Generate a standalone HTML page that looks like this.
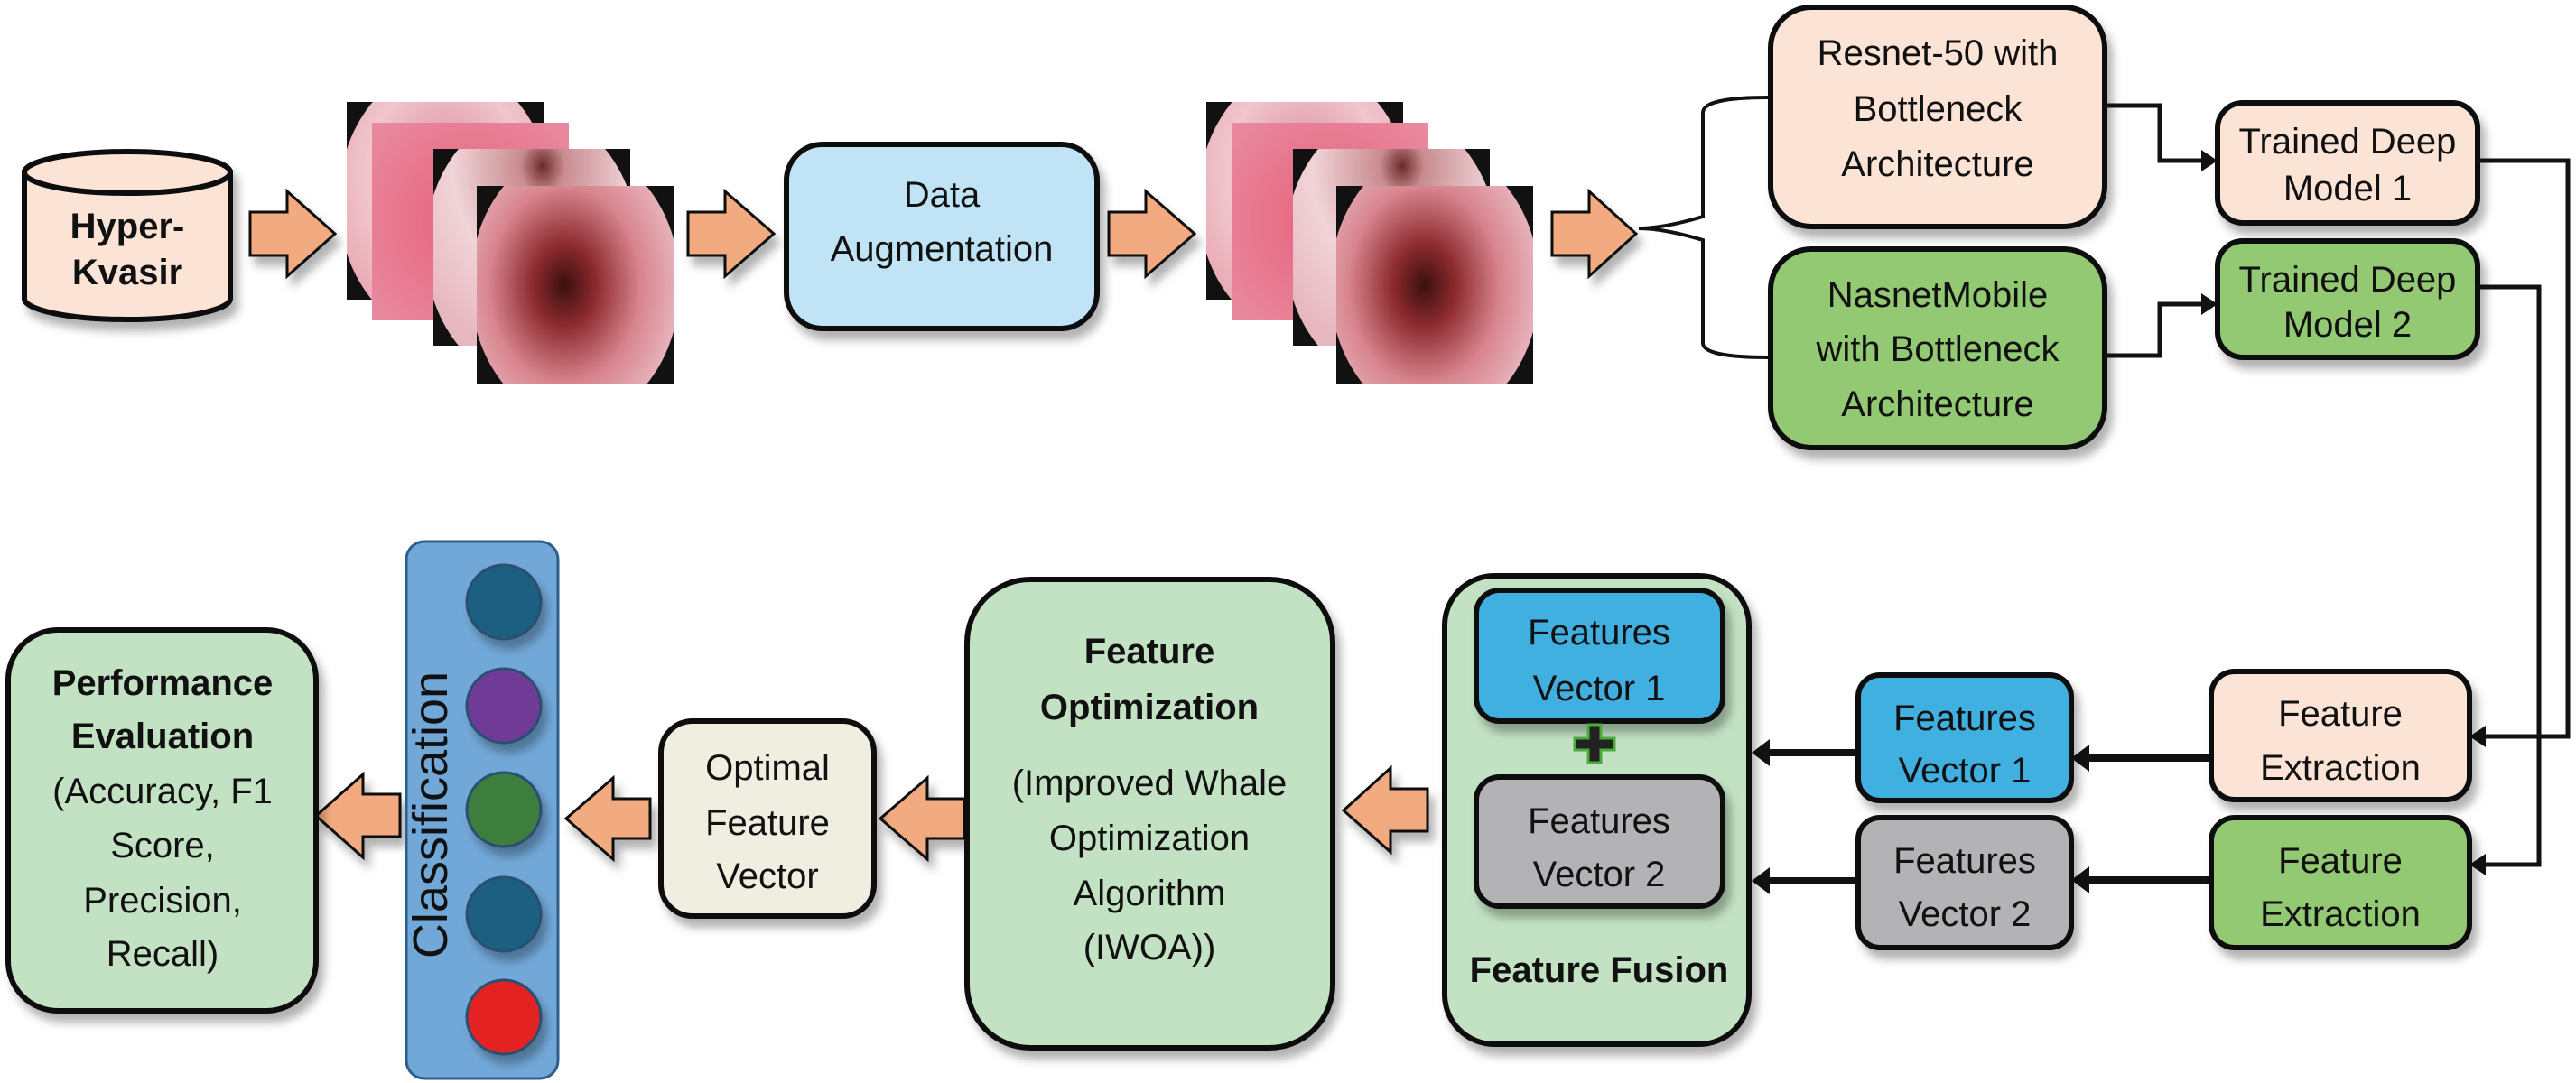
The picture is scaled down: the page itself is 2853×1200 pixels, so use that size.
<!DOCTYPE html>
<html><head><meta charset="utf-8"><style>
html,body{margin:0;padding:0;background:#fff;}
svg{display:block;}
text{font-family:"Liberation Sans Narrow","Liberation Sans",sans-serif;fill:#111;text-anchor:middle;dominant-baseline:central;font-size:40px;}
.b{font-weight:bold;}
.box{stroke:#111;stroke-width:6;}
</style></head><body>
<svg width="2853" height="1200" viewBox="0 0 2853 1200" xmlns="http://www.w3.org/2000/svg">
<defs>
<filter id="sh" x="-10%" y="-10%" width="130%" height="130%"><feDropShadow dx="6" dy="10" stdDeviation="5" flood-color="#000" flood-opacity="0.3"/></filter>
<radialGradient id="g1" cx="0.5" cy="0.4" r="0.6"><stop offset="0" stop-color="#d98a9c"/><stop offset="0.6" stop-color="#f0c6cc"/><stop offset="1" stop-color="#e9a7b3"/></radialGradient>
<radialGradient id="g2" cx="0.5" cy="0.5" r="0.7"><stop offset="0" stop-color="#e8607c"/><stop offset="1" stop-color="#e88ba0"/></radialGradient>
<radialGradient id="g3" cx="0.55" cy="0.2" r="0.7"><stop offset="0" stop-color="#6b2a2a"/><stop offset="0.15" stop-color="#c98c90"/><stop offset="0.6" stop-color="#f0d4d8"/><stop offset="1" stop-color="#e8b8c0"/></radialGradient>
<radialGradient id="g4" cx="0.45" cy="0.5" r="0.6"><stop offset="0" stop-color="#3a1010"/><stop offset="0.25" stop-color="#8c2a2e"/><stop offset="0.6" stop-color="#d7848e"/><stop offset="1" stop-color="#ecc0c8"/></radialGradient>
<g id="stack">
<svg x="0" y="0" width="218" height="219"><rect width="218" height="219" fill="#111"/><ellipse cx="109" cy="110" rx="118" ry="150" fill="url(#g1)"/></svg>
<rect x="28" y="23" width="218" height="219" fill="url(#g2)"/>
<svg x="96" y="52" width="218" height="218"><rect width="218" height="218" fill="#111"/><ellipse cx="109" cy="109" rx="118" ry="150" fill="url(#g3)"/></svg>
<svg x="144" y="93" width="218" height="219"><rect width="218" height="219" fill="#111"/><ellipse cx="109" cy="110" rx="116" ry="150" fill="url(#g4)"/></svg>
</g>
</defs>
<rect width="2853" height="1200" fill="#fff"/>

<g filter="url(#sh)">
<path d="M27 191 L27 331 A114 23 0 0 0 255 331 L255 191 Z" fill="#fbe3d6" class="box"/>
<ellipse cx="141" cy="191" rx="114" ry="23" fill="#fbe3d6" class="box"/>
</g>
<text x="141" y="251" class="b" font-size="36">Hyper-</text>
<text x="141" y="302" class="b" font-size="36">Kvasir</text>

<g fill="#f2aa80" stroke="#111" stroke-width="3" filter="url(#sh)">
<polygon points="277,235 318,235 318,212 371,259 318,306 318,283 277,283"/>
<polygon points="762,235 803,235 803,212 857,259 803,306 803,283 762,283"/>
<polygon points="1228,235 1269,235 1269,212 1323,259 1269,306 1269,283 1228,283"/>
<polygon points="1719,235 1760,235 1760,212 1812,259 1760,306 1760,283 1719,283"/>
<polygon points="1581,874 1540,874 1540,851 1488,898 1540,944 1540,921 1581,921"/>
<polygon points="1068,885 1027,885 1027,862 975,907 1027,952 1027,929 1068,929"/>
<polygon points="720,885 679,885 679,862 627,907 679,952 679,929 720,929"/>
<polygon points="443,880 402,880 402,858 350,904 402,950 402,927 443,927"/>
</g>

<use href="#stack" x="384" y="113"/>
<use href="#stack" x="1336" y="113"/>

<rect x="871" y="160" width="344" height="204" rx="40" fill="#c0e4f6" class="box" filter="url(#sh)"/>
<text x="1043" y="216">Data</text>
<text x="1043" y="276">Augmentation</text>

<path d="M1815 253 Q1842 253 1886 240 L1886 125 Q1886 108 1958 108 M1815 253 Q1842 253 1886 266 L1886 380 Q1886 396 1958 396" fill="none" stroke="#111" stroke-width="4"/>

<rect x="1961" y="8" width="370" height="243" rx="45" fill="#fbe3d6" class="box" filter="url(#sh)"/>
<text x="2146" y="59">Resnet-50 with</text>
<text x="2146" y="121">Bottleneck</text>
<text x="2146" y="182">Architecture</text>
<rect x="1961" y="276" width="370" height="220" rx="45" fill="#93c972" class="box" filter="url(#sh)"/>
<text x="2146" y="327">NasnetMobile</text>
<text x="2146" y="387">with Bottleneck</text>
<text x="2146" y="448">Architecture</text>

<rect x="2456" y="114" width="288" height="133" rx="28" fill="#fbe3d6" class="box" filter="url(#sh)"/>
<text x="2600" y="157" font-size="30">Trained Deep</text>
<text x="2600" y="209" font-size="30">Model 1</text>
<rect x="2456" y="267" width="288" height="129" rx="28" fill="#93c972" class="box" filter="url(#sh)"/>
<text x="2600" y="310" font-size="30">Trained Deep</text>
<text x="2600" y="360" font-size="30">Model 2</text>

<g fill="none" stroke="#111" stroke-width="5">
<polyline points="2331,117 2392,117 2392,178 2440,178"/>
<polyline points="2331,394 2392,394 2392,337 2440,337"/>
<polyline points="2744,178 2844,178 2844,816 2752,816"/>
<polyline points="2744,318 2812,318 2812,958 2752,958"/>
<line x1="2449" y1="840" x2="2310" y2="840" stroke-width="8"/>
<line x1="2449" y1="975" x2="2310" y2="975" stroke-width="8"/>
<line x1="2058" y1="834" x2="1956" y2="834" stroke-width="8"/>
<line x1="2058" y1="976" x2="1956" y2="976" stroke-width="8"/>
</g>
<g fill="#111">
<polygon points="2456,178 2438,166 2438,190"/>
<polygon points="2456,337 2438,325 2438,349"/>
<polygon points="2735,816 2753,804 2753,828"/>
<polygon points="2735,958 2753,946 2753,970"/>
<polygon points="2294,840 2314,825 2314,855"/>
<polygon points="2294,975 2314,960 2314,990"/>
<polygon points="1940,834 1960,819 1960,849"/>
<polygon points="1940,976 1960,961 1960,991"/>
</g>

<rect x="2449" y="744" width="286" height="142" rx="26" fill="#fbe3d6" class="box" filter="url(#sh)"/>
<text x="2592" y="791">Feature</text>
<text x="2592" y="851">Extraction</text>
<rect x="2449" y="906" width="286" height="144" rx="26" fill="#93c972" class="box" filter="url(#sh)"/>
<text x="2592" y="954">Feature</text>
<text x="2592" y="1013">Extraction</text>

<rect x="2058" y="748" width="236" height="139" rx="24" fill="#41b0e0" class="box" filter="url(#sh)"/>
<text x="2176" y="796">Features</text>
<text x="2176" y="854">Vector 1</text>
<rect x="2058" y="906" width="236" height="144" rx="24" fill="#b3b3b5" class="box" filter="url(#sh)"/>
<text x="2176" y="954">Features</text>
<text x="2176" y="1013">Vector 2</text>

<rect x="1600" y="638" width="337" height="519" rx="55" fill="#c3e2c4" class="box" filter="url(#sh)"/>
<rect x="1635" y="654" width="273" height="145" rx="26" fill="#41b0e0" class="box" filter="url(#sh)"/>
<text x="1771" y="701">Features</text>
<text x="1771" y="763">Vector 1</text>
<path d="M1759 803 h14 v15 h15 v13 h-15 v14 h-14 v-14 h-15 v-13 h15 z" fill="#222" stroke="#4caa3c" stroke-width="3"/>
<rect x="1635" y="861" width="273" height="143" rx="26" fill="#b3b3b5" class="box" filter="url(#sh)"/>
<text x="1771" y="910">Features</text>
<text x="1771" y="969">Vector 2</text>
<text x="1771" y="1075" class="b" font-size="40">Feature Fusion</text>

<rect x="1071" y="642" width="405" height="519" rx="70" fill="#c3e2c4" class="box" filter="url(#sh)"/>
<text x="1273" y="722" class="b">Feature</text>
<text x="1273" y="784" class="b">Optimization</text>
<text x="1273" y="868">(Improved Whale</text>
<text x="1273" y="929">Optimization</text>
<text x="1273" y="990">Algorithm</text>
<text x="1273" y="1050">(IWOA))</text>

<rect x="732" y="799" width="236" height="216" rx="35" fill="#efeee0" class="box" filter="url(#sh)"/>
<text x="850" y="851">Optimal</text>
<text x="850" y="912">Feature</text>
<text x="850" y="971">Vector</text>

<rect x="450" y="600" width="168" height="595" rx="20" fill="#72a8d8" stroke="#2e5e8a" stroke-width="3"/>
<g stroke="#2a4f70" stroke-width="3" filter="url(#sh)">
<ellipse cx="558" cy="667" rx="41" ry="41" fill="#1a5f80"/>
<ellipse cx="558" cy="782" rx="41" ry="41" fill="#6f3a96"/>
<ellipse cx="558" cy="897" rx="41" ry="41" fill="#3d7d3d"/>
<ellipse cx="558" cy="1013" rx="41" ry="41" fill="#1a5f80"/>
<ellipse cx="558" cy="1127" rx="41" ry="41" fill="#e52222"/>
</g>
<text x="477" y="903" transform="rotate(-90 477 903)" style="font-family:'Liberation Sans',sans-serif;font-size:54px;fill:#111">Classification</text>

<rect x="9" y="698" width="341" height="422" rx="55" fill="#c3e2c4" class="box" filter="url(#sh)"/>
<text x="180" y="757" class="b">Performance</text>
<text x="180" y="816" class="b">Evaluation</text>
<text x="180" y="877">(Accuracy, F1</text>
<text x="180" y="937">Score,</text>
<text x="180" y="998">Precision,</text>
<text x="180" y="1057">Recall)</text>
</svg>
</body></html>
